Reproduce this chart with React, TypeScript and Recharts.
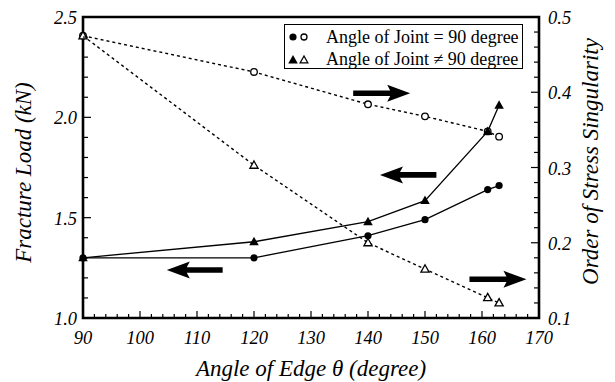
import React from 'react';
import {
  ComposedChart,
  Line,
  XAxis,
  YAxis,
  ReferenceArea,
  ReferenceLine,
  Legend,
} from 'recharts';

document.body.style.margin = '0';

const FONT = 'Liberation Serif';

// edge angle (degree)
const angles = [90, 120, 140, 150, 161, 163];
// fracture load (kN)
const loadJoint90 = [1.3, 1.3, 1.41, 1.49, 1.64, 1.66];
const loadJointNot90 = [1.3, 1.38, 1.48, 1.585, 1.93, 2.06];
// order of stress singularity
const singJoint90 = [0.475, 0.427, 0.384, 0.368, 0.348, 0.341];
const singJointNot90 = [0.475, 0.303, 0.2, 0.165, 0.127, 0.12];

// labelled ticks
const xLabels = [90, 100, 110, 120, 130, 140, 150, 160, 170];
const loadLabels = [1.0, 1.5, 2.0, 2.5];
const singLabels = [0.1, 0.2, 0.3, 0.4, 0.5];

// direction arrows, in angle / load units
const arrows = [
  { from: 137.4, to: 147.4, y: 2.12 },
  { from: 152.0, to: 142.1, y: 1.713 },
  { from: 114.5, to: 104.7, y: 1.239 },
  { from: 157.8, to: 167.8, y: 1.193 },
];

const chartData = angles.map((angle, i) => ({
  angle,
  load90: loadJoint90[i],
  loadNot90: loadJointNot90[i],
  sing90: singJoint90[i],
  singNot90: singJointNot90[i],
}));

function steps(from: number, to: number, step: number) {
  const out: number[] = [];
  for (let v = from; v <= to + 1e-9; v += step) out.push(Math.round(v * 1000) / 1000);
  return out;
}

const xTicks = steps(90, 170, 2);
const loadTicks = steps(1, 2.5, 0.1);
const singTicks = steps(0.1, 0.5, 0.02);

const isMajor = (labels: number[], v: number) => labels.some((l) => Math.abs(l - v) < 1e-6);

const tickText = { fontFamily: FONT, fontStyle: 'italic', fontSize: 18.5, fill: '#000' } as const;

const XTick = (props: any) => {
  const { x, y, payload } = props;
  const major = isMajor(xLabels, payload.value);
  return (
    <g>
      <line x1={x} y1={y} x2={x} y2={y - (major ? 7 : 4)} stroke="#000" strokeWidth={1.2} />
      {major && (
        <text x={x} y={y + 26} textAnchor="middle" {...tickText}>
          {payload.value}
        </text>
      )}
    </g>
  );
};

const LoadTick = (props: any) => {
  const { x, y, payload } = props;
  const major = isMajor(loadLabels, payload.value);
  return (
    <g>
      <line x1={x} y1={y} x2={x + (major ? 8 : 5)} y2={y} stroke="#000" strokeWidth={1.2} />
      {major && (
        <text x={x - 6} y={y + 7} textAnchor="end" {...tickText}>
          {payload.value.toFixed(1)}
        </text>
      )}
    </g>
  );
};

const SingTick = (props: any) => {
  const { x, y, payload } = props;
  const major = isMajor(singLabels, payload.value);
  return (
    <g>
      <line x1={x} y1={y} x2={x - (major ? 8 : 5)} y2={y} stroke="#000" strokeWidth={1.2} />
      {major && (
        <text x={x + 9} y={y + 7} textAnchor="start" {...tickText}>
          {payload.value.toFixed(1)}
        </text>
      )}
    </g>
  );
};

const triPoints = (cx: number, cy: number, s: number) =>
  `${cx},${cy - s} ${cx + s * 0.95},${cy + s * 0.7} ${cx - s * 0.95},${cy + s * 0.7}`;

const FilledCircle = (p: any) => <circle key={p.index} cx={p.cx} cy={p.cy} r={3.6} fill="#000" />;
const OpenCircle = (p: any) => (
  <circle key={p.index} cx={p.cx} cy={p.cy} r={3.3} fill="#fff" stroke="#000" strokeWidth={1.3} />
);
const FilledTriangle = (p: any) => <polygon key={p.index} points={triPoints(p.cx, p.cy, 5)} fill="#000" />;
const OpenTriangle = (p: any) => (
  <polygon key={p.index} points={triPoints(p.cx, p.cy, 4.3)} fill="#fff" stroke="#000" strokeWidth={1.3} />
);

const Arrow = (p: any) => {
  const { x1, x2, y1 } = p;
  const d = x2 > x1 ? 1 : -1;
  const head = 20;
  const xh = x2 - d * head;
  const t = 2.8;
  const h = 8.5;
  const pts = [
    [x1, y1 - t],
    [xh, y1 - t],
    [xh - d * 3, y1 - h],
    [x2, y1],
    [xh - d * 3, y1 + h],
    [xh, y1 + t],
    [x1, y1 + t],
  ]
    .map((q) => q.join(','))
    .join(' ');
  return <polygon points={pts} fill="#000" />;
};

const legendRows = [
  { text: 'Angle of Joint = 90 degree', marker: 'circle' },
  { text: 'Angle of Joint \u2260 90 degree', marker: 'tri' },
];

const LegendBox = () => (
  <div
    style={{
      width: 237,
      height: 43,
      border: '1.5px solid #000',
      background: '#fff',
      fontFamily: FONT,
      fontSize: 18,
      position: 'relative',
    }}
  >
    {legendRows.map((row, i) => (
      <div key={i} style={{ position: 'absolute', top: 2 + i * 22, left: 0, height: 20, display: 'flex', alignItems: 'center' }}>
        <svg width={41} height={20} style={{ display: 'block' }}>
          {row.marker === 'circle' ? (
            <>
              <circle cx={8} cy={10} r={3.6} fill="#000" />
              <circle cx={19} cy={10} r={3} fill="#fff" stroke="#000" strokeWidth={1.3} />
            </>
          ) : (
            <>
              <polygon points={triPoints(8, 11, 5)} fill="#000" />
              <polygon points={triPoints(19, 11, 4)} fill="#fff" stroke="#000" strokeWidth={1.3} />
            </>
          )}
        </svg>
        <span style={{ whiteSpace: 'nowrap', lineHeight: '20px' }}>{row.text}</span>
      </div>
    ))}
  </div>
);

const axisTitle = { fontFamily: FONT, fontStyle: 'italic', fontSize: 23, fill: '#000' } as const;

export default function App() {
  return (
    <div style={{ width: 615, height: 382, background: '#fff', fontFamily: FONT }}>
      <ComposedChart
        width={615}
        height={382}
        data={chartData}
        margin={{ top: 17, right: 0, bottom: 0, left: 0 }}
      >
        <XAxis
          dataKey="angle"
          type="number"
          domain={[90, 170]}
          ticks={xTicks}
          interval={0}
          height={64}
          axisLine={false}
          tickLine={false}
          tickSize={0}
          tickMargin={0}
          tick={<XTick />}
          label={{
            content: (lp: any) => {
              const vb = lp.viewBox;
              return (
                <text x={vb.x + vb.width / 2} y={vb.y + 58} textAnchor="middle" {...axisTitle}>
                  Angle of Edge θ  (degree)
                </text>
              );
            },
          }}
        />
        <YAxis
          yAxisId="load"
          orientation="left"
          domain={[1, 2.5]}
          ticks={loadTicks}
          interval={0}
          width={83}
          axisLine={false}
          tickLine={false}
          tickSize={0}
          tickMargin={0}
          tick={<LoadTick />}
          label={{
            content: (lp: any) => {
              const vb = lp.viewBox;
              const cy = vb.y + vb.height / 2 + 5;
              return (
                <text x={31} y={cy} transform={`rotate(-90 31 ${cy})`} textAnchor="middle" {...axisTitle}>
                  Fracture Load  (kN)
                </text>
              );
            },
          }}
        />
        <YAxis
          yAxisId="sing"
          orientation="right"
          domain={[0.1, 0.5]}
          ticks={singTicks}
          interval={0}
          width={76}
          axisLine={false}
          tickLine={false}
          tickSize={0}
          tickMargin={0}
          tick={<SingTick />}
          label={{
            content: (lp: any) => {
              const vb = lp.viewBox;
              const cx = vb.x + 59;
              const cy = vb.y + vb.height / 2 - 6;
              return (
                <text x={cx} y={cy} transform={`rotate(-90 ${cx} ${cy})`} textAnchor="middle" {...axisTitle}>
                  Order of Stress Singularity
                </text>
              );
            },
          }}
        />
        <ReferenceArea
          yAxisId="load"
          x1={90}
          x2={170}
          y1={1}
          y2={2.5}
          fill="none"
          fillOpacity={0}
          stroke="#000"
          strokeWidth={2.6}
        />
        {arrows.map((a, i) => (
          <ReferenceLine
            key={i}
            yAxisId="load"
            segment={[
              { x: a.from, y: a.y },
              { x: a.to, y: a.y },
            ]}
            shape={(p: any) => <Arrow {...p} />}
          />
        ))}
        <Line
          yAxisId="sing"
          dataKey="sing90"
          type="linear"
          stroke="#000"
          strokeWidth={1.4}
          strokeDasharray="3 3"
          dot={OpenCircle}
          isAnimationActive={false}
        />
        <Line
          yAxisId="sing"
          dataKey="singNot90"
          type="linear"
          stroke="#000"
          strokeWidth={1.4}
          strokeDasharray="3 3"
          dot={OpenTriangle}
          isAnimationActive={false}
        />
        <Line
          yAxisId="load"
          dataKey="load90"
          type="linear"
          stroke="#000"
          strokeWidth={1.3}
          dot={FilledCircle}
          isAnimationActive={false}
        />
        <Line
          yAxisId="load"
          dataKey="loadNot90"
          type="linear"
          stroke="#000"
          strokeWidth={1.3}
          dot={FilledTriangle}
          isAnimationActive={false}
        />
        <Legend
          layout="vertical"
          align="center"
          verticalAlign="middle"
          wrapperStyle={{ left: 284, top: 24, width: 241 }}
          content={() => <LegendBox />}
        />
      </ComposedChart>
    </div>
  );
}
